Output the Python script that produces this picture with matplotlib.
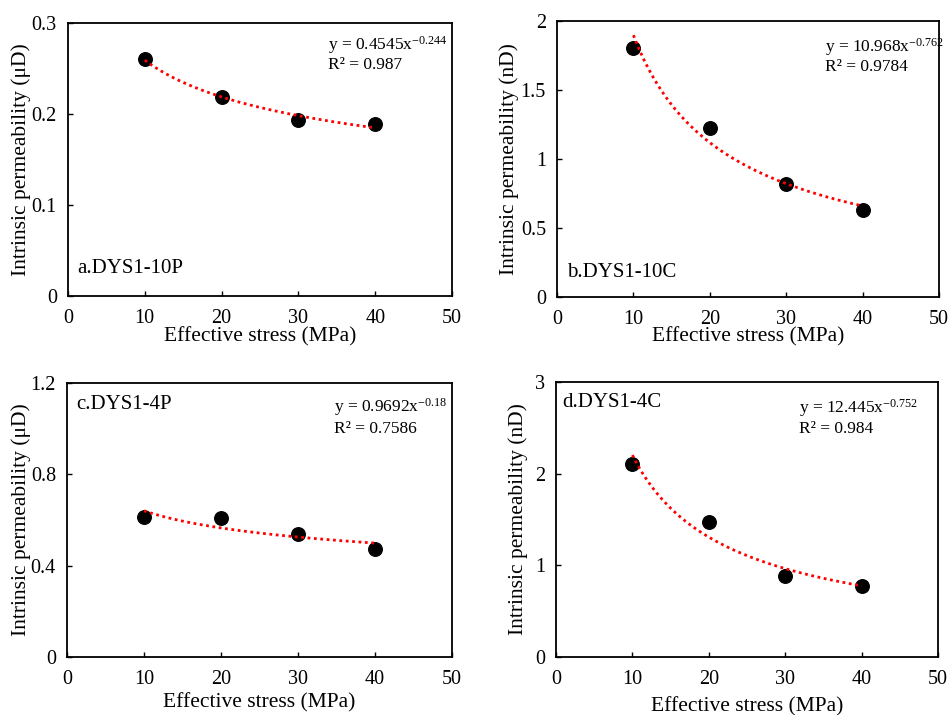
"""Stress sensitivity of intrinsic permeability: four samples, power-law fits."""

import matplotlib

matplotlib.use("Agg")
import matplotlib.pyplot as plt
import numpy as np

plt.rcParams["font.family"] = ["Liberation Serif", "DejaVu Serif"]
plt.rcParams["mathtext.fontset"] = "custom"
plt.rcParams["mathtext.rm"] = "Liberation Serif"
plt.rcParams["mathtext.it"] = "Liberation Serif:italic"

# effective stress steps (MPa)
stress = [10, 20, 30, 40]

perm_a = [0.260, 0.219, 0.193, 0.189]   # uD
perm_b = [1.807, 1.227, 0.819, 0.628]   # nD
perm_c = [0.613, 0.607, 0.537, 0.472]   # uD
perm_d = [2.105, 1.473, 0.884, 0.775]   # nD

# power-law trendline y = k * x^n as printed on each panel
fit_k = [0.4545, 10.968, 0.9692, 12.445]
fit_n = [-0.244, -0.762, -0.18, -0.752]
fit_k_txt = ["0.4545", "10.968", "0.9692", "12.445"]
fit_n_txt = ["-0.244", "-0.762", "-0.18", "-0.752"]
r2_txt = ["0.987", "0.9784", "0.7586", "0.984"]

names = ["a.DYS1-10P", "b.DYS1-10C", "c.DYS1-4P", "d.DYS1-4C"]
units = ["\u03bcD", "nD", "\u03bcD", "nD"]
ymax = [0.3, 2, 1.2, 3]
yticks = [[0, 0.1, 0.2, 0.3], [0, 0.5, 1, 1.5, 2], [0, 0.4, 0.8, 1.2], [0, 1, 2, 3]]
ytick_labels = [["0", "0.1", "0.2", "0.3"], ["0", "0.5", "1", "1.5", "2"],
                ["0", "0.4", "0.8", "1.2"], ["0", "1", "2", "3"]]
perms = [perm_a, perm_b, perm_c, perm_d]

# layout (figure fractions), label placement per panel
rects = [
    [0.0714, 0.586, 0.4034, 0.3818],
    [0.5851, 0.5846, 0.4013, 0.3860],
    [0.0704, 0.0811, 0.4044, 0.3832],
    [0.5840, 0.0811, 0.4013, 0.3846],
]
name_pos = [(0.025, 0.10), (0.025, 0.087), (0.025, 0.92), (0.016, 0.927)]
eq_pos = [(0.678, 0.919, 0.846), (0.702, 0.905, 0.834),
          (0.694, 0.912, 0.833), (0.637, 0.905, 0.828)]
xlab_off = [41, 40, 46, 50]      # px below axes
ylab_off = [47, 48, 46, 38]      # px left of axes

W, H = 952, 715
fig = plt.figure(figsize=(W / 100, H / 100), dpi=100)

for i in range(4):
    ax = fig.add_axes(rects[i])
    ax.scatter(stress, perms[i], s=95, color="black", zorder=3)
    xs = np.linspace(stress[0], stress[-1], 200)
    ax.plot(xs, fit_k[i] * xs ** fit_n[i], color="red", lw=2.0,
            linestyle=(0, (1, 1.3)), zorder=4)

    ax.set_xlim(0, 50)
    ax.set_ylim(0, ymax[i])
    ax.set_xticks([0, 10, 20, 30, 40, 50])
    ax.set_yticks(yticks[i])
    ax.set_yticklabels(ytick_labels[i])
    ax.tick_params(direction="in", length=3.5, width=1.0, labelsize=14.5,
                   pad=8, top=False, right=False)
    ax.tick_params(axis="x", pad=9)
    for sp in ax.spines.values():
        sp.set_linewidth(1.3)

    w_px = rects[i][2] * W
    h_px = rects[i][3] * H
    ax.set_xlabel("Effective stress (MPa)", fontsize=15.5, va="center")
    ax.xaxis.set_label_coords(0.5, -xlab_off[i] / h_px)
    ax.set_ylabel(f"Intrinsic permeability ({units[i]})", fontsize=15.5, va="center")
    ax.yaxis.set_label_coords(-ylab_off[i] / w_px, 0.5)

    ax.text(name_pos[i][0], name_pos[i][1], names[i], transform=ax.transAxes,
            fontsize=15, va="center", ha="left")
    ex, ey1, ey2 = eq_pos[i]
    ax.text(ex, ey1, f"y = {fit_k_txt[i]}x$^{{\\mathrm{{{fit_n_txt[i]}}}}}$",
            transform=ax.transAxes, fontsize=12.5, va="center", ha="left")
    ax.text(ex, ey2, f"R\u00b2 = {r2_txt[i]}", transform=ax.transAxes,
            fontsize=12.5, va="center", ha="left")

fig.savefig("out.png", dpi=100)
